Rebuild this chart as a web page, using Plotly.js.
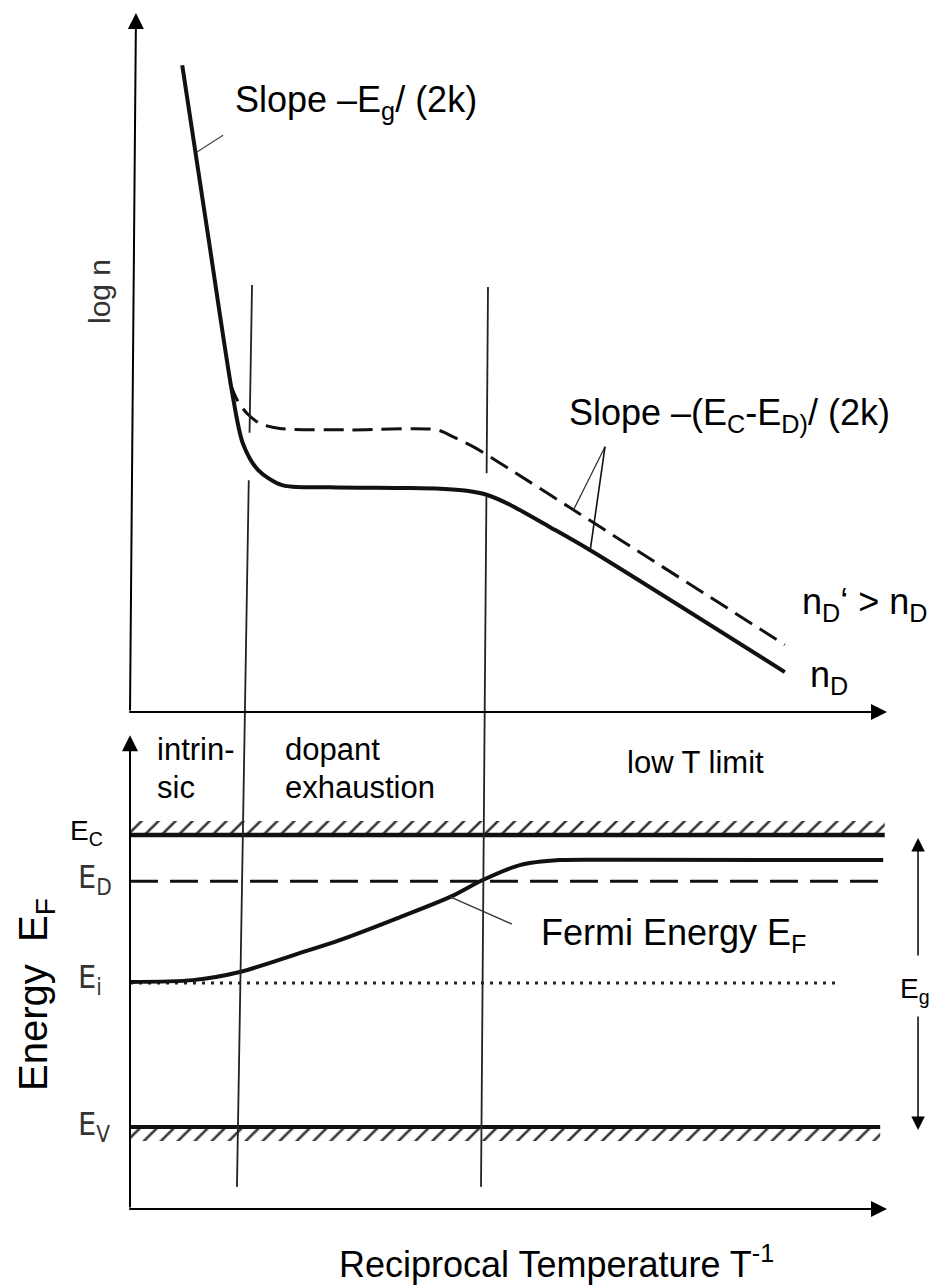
<!DOCTYPE html>
<html>
<head>
<meta charset="utf-8">
<script src="https://cdn.plot.ly/plotly-3.0.1.min.js"></script>
<style>html,body{margin:0;padding:0;background:#fff;}#chart{width:929px;height:1287px;}</style>
</head>
<body>
<div id="chart"></div>
<script>
// ---------- data (arbitrary units: T^-1 in 0..100, log n in 0..100, energy normalised E_V=0, E_C=1) ----------
const invT_nD   = [6.9, 10.2, 13.5, 14.9, 16.9, 20.1, 26.4, 35.7, 41.0, 44.5, 47.2, 50.2, 55.5, 60.8, 86.5];
const logn_nD   = [92.4, 68.9, 45.6, 38.4, 34.6, 32.4, 32.1, 32.0, 31.9, 31.6, 31.0, 29.6, 26.4, 23.1, 5.7];

const invT_nDp  = [13.2, 14.2, 15.5, 17.2, 19.8, 29.1, 40.6, 42.7, 45.5, 50.0, 58.1, 86.5];
const logn_nDp  = [47.0, 44.5, 42.6, 41.2, 40.5, 40.3, 40.3, 39.3, 37.8, 34.8, 29.2, 9.6];

const invT_EF   = [0, 8.3, 14.5, 22.5, 27.7, 35.7, 42.3, 46.6, 51.5, 56.8, 65.0, 99.5];
const energy_EF = [0.497, 0.503, 0.531, 0.596, 0.640, 0.719, 0.788, 0.846, 0.897, 0.914, 0.915, 0.914];

const E_C = 1.0, E_D = 0.842, E_i = 0.493, E_V = 0.0;
const invT_levels = [0, 99.7];      // extent of the band-edge lines
const invT_Ei     = [0, 93.8];
const invT_EV     = [0, 99.1];

// regime boundaries (slightly tilted in the original drawing)
const bound1_top_x = [16.12, 15.79], bound1_top_y = [61.0, 39.9];
const bound1_mid_x = [15.69, 15.15], bound1_mid_y = [33.1, -1.86];
const bound1_bot_x = [15.15, 14.13], bound1_bot_y = [1.377, -0.205];
const bound2_top_x = [47.29, 47.11], bound2_top_y = [60.7, 34.1];
const bound2_mid_x = [47.08, 46.84], bound2_mid_y = [30.7, -1.86];
const bound2_bot_x = [46.84, 46.37], bound2_bot_y = [1.377, -0.205];

// ---------- layout helpers ----------
const W = 929, H = 1287;
const FONT = 'Liberation Sans, Arial, sans-serif';
const NARROW = 'Liberation Sans Narrow, DejaVu Sans Condensed, Liberation Sans, sans-serif';
const SPLIT = 562 / 1287;
function px(x){return x / W;}
function py(y){return 1 - y / H;}
function txt(text, x, y, size, extra){
  return Object.assign({xref:'paper', yref:'paper', x:px(x), y:py(y), xanchor:'left', yanchor:'middle',
    text:text, showarrow:false, font:{family:FONT, size:size, color:'#000'}}, extra||{});
}
function arrow(x, y, ax, ay, yref, w, s){
  return {xref:'x', yref:yref, axref:'x', ayref:yref, x:x, y:y, ax:ax, ay:ay, text:'', showarrow:true,
    arrowhead:2, arrowsize:s||1.6, arrowwidth:w||2, arrowcolor:'#000', standoff:0, startstandoff:0};
}
function line(x, y, yaxis, width, dash, color, shape){
  return {x:x, y:y, xaxis:'x', yaxis:yaxis, mode:'lines', hoverinfo:'skip', showlegend:false,
    line:{color:color||'#111', width:width, dash:dash||'solid', shape:shape||'linear', smoothing:0.8}};
}
function hatch(x0, x1, y0, y1){
  return {x:[x0,x1,x1,x0,x0], y:[y0,y0,y1,y1,y0], xaxis:'x', yaxis:'y2', mode:'lines', fill:'toself',
    line:{width:0, color:'rgba(0,0,0,0)'}, fillcolor:'rgba(0,0,0,0)', hoverinfo:'skip', showlegend:false,
    fillpattern:{shape:'/', size:12, solidity:0.22, fgcolor:'#333', bgcolor:'rgba(0,0,0,0)'}};
}

const traces = [
  // top panel
  line(invT_nD, logn_nD, 'y', 4, 'solid', '#111', 'spline'),
  line(invT_nDp, logn_nDp, 'y', 3, '20px,9px', '#111', 'spline'),
  line(bound1_top_x, bound1_top_y, 'y', 1.8, 'solid', '#222'),
  line(bound1_mid_x, bound1_mid_y, 'y', 1.8, 'solid', '#222'),
  line(bound2_top_x, bound2_top_y, 'y', 1.8, 'solid', '#222'),
  line(bound2_mid_x, bound2_mid_y, 'y', 1.8, 'solid', '#222'),
  line([8.85, 12.29], [80.0, 82.4], 'y', 1.2, 'solid', '#444'),
  line([62.75, 58.6], [37.9, 28.9], 'y', 1.3, 'solid', '#333'),
  line([62.75, 60.77], [37.9, 22.9], 'y', 1.6, 'solid', '#111'),
  // bottom panel
  hatch(invT_levels[0], invT_levels[1], E_C, E_C + 0.048),
  hatch(invT_EV[0], invT_EV[1], E_V - 0.048, E_V),
  line(invT_levels, [E_C, E_C], 'y2', 4.5),
  line(invT_EV, [E_V, E_V], 'y2', 4),
  line(invT_levels, [E_D, E_D], 'y2', 3, '28px,12px'),
  line(invT_Ei, [E_i, E_i], 'y2', 3, '3px,6px', '#222'),
  line(invT_EF, energy_EF, 'y2', 4, 'solid', '#111', 'spline'),
  line(bound1_bot_x, bound1_bot_y, 'y2', 1.8, 'solid', '#222'),
  line(bound2_bot_x, bound2_bot_y, 'y2', 1.8, 'solid', '#222'),
  line([42.3, 50.46], [0.788, 0.695], 'y2', 1.3, 'solid', '#333')
];

const grey = {family:NARROW, size:32, color:'#333'};
const annotations = [
  // axes with arrow heads
  arrow(0.79, 99.86, 0, 0, 'y'),
  arrow(100, 0, -0.3, 0, 'y'),
  arrow(0, 1.342, 0, -0.281, 'y2'),
  arrow(100, -0.281, -0.3, -0.281, 'y2'),
  // E_g double arrow
  arrow(104.1, 0.99, 104.1, 0.582, 'y2', 1.5, 1.8),
  arrow(104.1, -0.01, 104.1, 0.384, 'y2', 1.5, 1.8),
  // texts
  txt('Slope –E<sub>g</sub>/ (2k)', 233, 102, 36),
  txt('Slope –(E<sub>C</sub>-E<sub>D)</sub>/ (2k)', 567, 415, 36),
  txt('n<sub>D</sub>‘ > n<sub>D</sub>', 800, 604, 36),
  txt('n<sub>D</sub>', 808, 677, 36),
  txt('log n', 100, 292, 30, {xanchor:'center', textangle:-90, font:{family:FONT, size:30, color:'#333'}}),
  txt('intrin-', 155, 749, 31),
  txt('sic', 155, 787, 31),
  txt('dopant', 283, 749, 31),
  txt('exhaustion', 283, 787, 31),
  txt('low T limit', 625, 762, 31),
  txt('E<sub>C</sub>', 68, 832, 28),
  txt('E<sub>D</sub>', 76, 879, 32, {font:grey}),
  txt('E<sub>i</sub>', 76, 979, 32, {font:grey}),
  txt('E<sub>V</sub>', 76, 1126, 32, {font:grey}),
  txt('Fermi Energy E<sub>F</sub>', 539, 935, 36),
  txt('E<sub>g</sub>', 898, 990, 28),
  txt('Energy  E<sub>F</sub>', 36, 995, 40, {xanchor:'center', textangle:-90}),
  txt('Reciprocal Temperature T<sup>-1</sup>', 337, 1262, 36)
];

const hidden = {visible:false, showgrid:false, zeroline:false, fixedrange:true};
const layout = {
  width:W, height:H, margin:{l:0, r:0, t:0, b:0}, paper_bgcolor:'#fff', plot_bgcolor:'rgba(0,0,0,0)',
  showlegend:false,
  xaxis:Object.assign({domain:[0,1], range:[-17.173, 105.548]}, hidden),
  yaxis:Object.assign({domain:[SPLIT,1], range:[-1.857, 101.714], anchor:'x'}, hidden),
  yaxis2:Object.assign({domain:[0,SPLIT], range:[-0.5479, 1.3767], anchor:'x'}, hidden),
  annotations:annotations
};
Plotly.newPlot('chart', traces, layout, {staticPlot:true});
</script>
</body>
</html>
